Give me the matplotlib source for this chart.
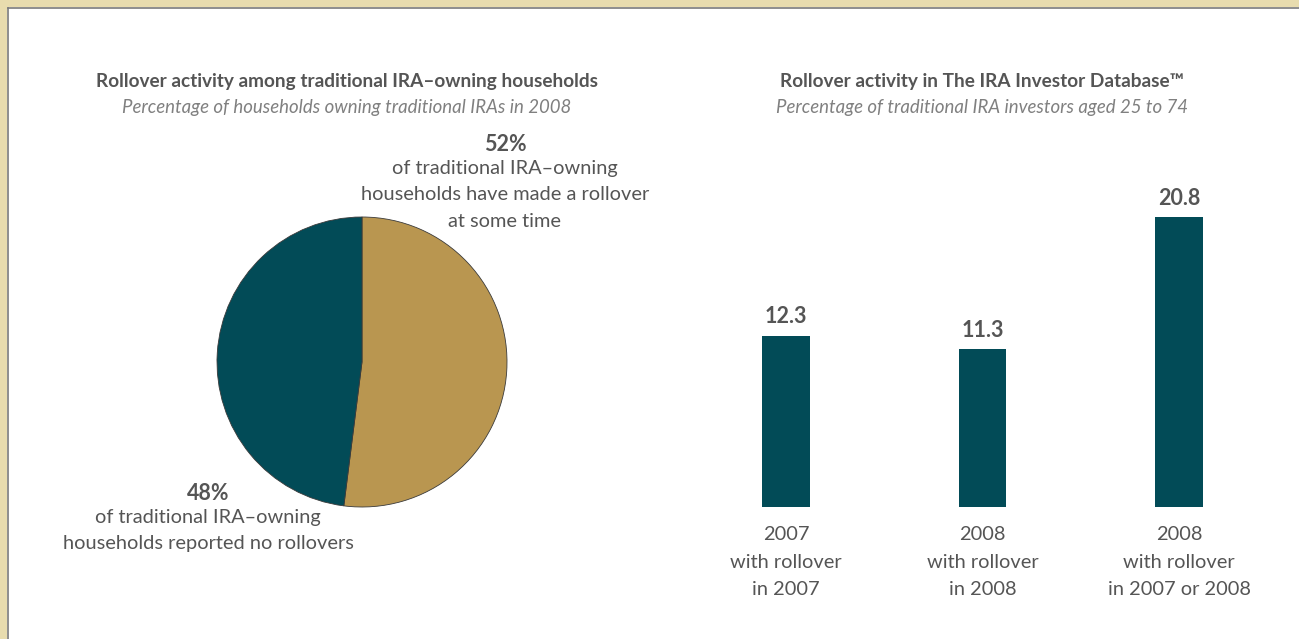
import matplotlib.pyplot as plt
from matplotlib.patches import Rectangle
from matplotlib.lines import Line2D

plt.rcParams['font.family'] = ['Lato', 'DejaVu Sans']

# --- data ---
pie_labels = ['Made a rollover', 'No rollovers']
pie_values = [52, 48]
pie_colors = ['#B99650', '#024B57']

bar_categories = ['2007\nwith rollover\nin 2007',
                  '2008\nwith rollover\nin 2008',
                  '2008\nwith rollover\nin 2007 or 2008']
bar_values = [12.3, 11.3, 20.8]

TEXT = '#555555'
W, H = 1299, 639
FS_BODY = 14.4
FS_NUM = 15.5

fig = plt.figure(figsize=(W / 100, H / 100), dpi=100)
fig.patch.set_facecolor('white')

# frame: beige band on top and left with a thin grey rule
fig.patches.append(Rectangle((0, 1 - 7 / H), 1, 7 / H, transform=fig.transFigure,
                             facecolor='#E8DCAE', edgecolor='none', zorder=-1))
fig.patches.append(Rectangle((0, 0), 7 / W, 1, transform=fig.transFigure,
                             facecolor='#E8DCAE', edgecolor='none', zorder=-1))
fig.lines.append(Line2D([7.5 / W, 7.5 / W], [0, 1 - 7.5 / H], transform=fig.transFigure,
                        color='#7A7A7A', linewidth=1.2, zorder=-1))
fig.lines.append(Line2D([7.5 / W, 1], [1 - 7.5 / H, 1 - 7.5 / H], transform=fig.transFigure,
                        color='#7A7A7A', linewidth=1.2, zorder=-1))

# titles
fig.text(347 / W, 1 - 82 / H, 'Rollover activity among traditional IRA–owning households',
         ha='center', va='center', fontsize=13.7, fontweight='bold', color=TEXT)
fig.text(347 / W, 1 - 108 / H, 'Percentage of households owning traditional IRAs in 2008',
         ha='center', va='center', fontsize=13.4, style='italic', color='#808080')
fig.text(982 / W, 1 - 82 / H, 'Rollover activity in The IRA Investor Database™',
         ha='center', va='center', fontsize=13.7, fontweight='bold', color=TEXT)
fig.text(982 / W, 1 - 108 / H, 'Percentage of traditional IRA investors aged 25 to 74',
         ha='center', va='center', fontsize=13.4, style='italic', color='#808080')

# --- pie ---
cx, cy, r = 362, 362, 145
ax1 = fig.add_axes([(cx - r) / W, (H - cy - r) / H, 2 * r / W, 2 * r / H])
ax1.pie(pie_values, colors=pie_colors, startangle=90, counterclock=False, radius=1,
        wedgeprops=dict(edgecolor='#3a3a3a', linewidth=0.6))
ax1.set_xlim(-1, 1)
ax1.set_ylim(-1, 1)
ax1.set_aspect('equal')
ax1.axis('off')

fig.text(505 / W, 1 - 145 / H, f'{pie_values[0]}%', ha='center', va='center',
         fontsize=FS_NUM, fontweight='bold', color=TEXT)
fig.text(505 / W, 1 - 195 / H, 'of traditional IRA–owning\nhouseholds have made a rollover\nat some time',
         ha='center', va='center', fontsize=FS_BODY, color=TEXT, linespacing=1.65)
fig.text(208 / W, 1 - 493 / H, f'{pie_values[1]}%', ha='center', va='center',
         fontsize=FS_NUM, fontweight='bold', color=TEXT)
fig.text(208 / W, 1 - 530.5 / H, 'of traditional IRA–owning\nhouseholds reported no rollovers',
         ha='center', va='center', fontsize=FS_BODY, color=TEXT, linespacing=1.65)

# --- bars ---
ax2 = fig.add_axes([690 / W, 132 / H, 585 / W, 357 / H])
x = range(len(bar_values))
bars = ax2.bar(x, bar_values, width=0.244, color='#024B57')
ax2.set_xlim(-0.4885, 2.4885)
ax2.set_ylim(0, 357 / 13.94)
for b, v in zip(bars, bar_values):
    ax2.annotate(f'{v}', (b.get_x() + b.get_width() / 2, v), xytext=(0, 6),
                 textcoords='offset points', ha='center', va='bottom',
                 fontsize=FS_NUM, fontweight='bold', color=TEXT)
ax2.set_xticks(list(x))
ax2.set_xticklabels(bar_categories, fontsize=FS_BODY, color=TEXT, linespacing=1.75)
ax2.tick_params(axis='x', length=0, pad=14)
ax2.set_yticks([])
for s in ax2.spines.values():
    s.set_visible(False)
ax2.patch.set_alpha(0)

fig.savefig('out.png', dpi=100)
